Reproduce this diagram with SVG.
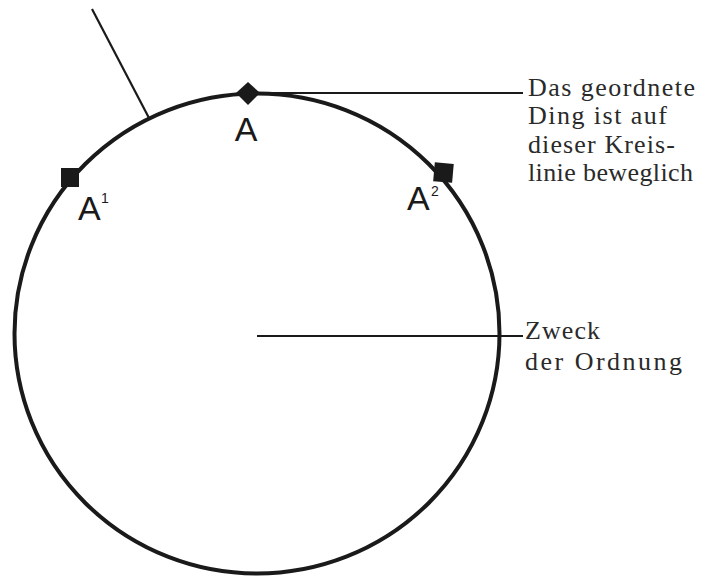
<svg xmlns="http://www.w3.org/2000/svg" width="715" height="576" viewBox="0 0 715 576">
<style>
.ring{fill:none;stroke:#1a1a1a;stroke-width:4}
.ln{stroke:#1a1a1a;stroke-width:2.2;fill:none}
.mk{fill:#1a1a1a}
.lab{font-family:"Liberation Sans",Arial,sans-serif;font-size:34px;fill:#1a1a1a}
.sup{font-family:"Liberation Sans",Arial,sans-serif;font-size:14px;fill:#1a1a1a}
.txt{font-family:"Liberation Serif","Times New Roman",serif;font-size:26px;fill:#2a2a2a}
</style>
<rect width="715" height="576" fill="#ffffff"/>
<g id="circle">
<ellipse class="ring" cx="257" cy="333.5" rx="242.5" ry="240"/>
</g>
<g id="connectors">
<line class="ln" x1="92" y1="9" x2="149" y2="118" stroke-width="2.6"/>
<line class="ln" x1="248" y1="93" x2="523" y2="93"/>
<line class="ln" x1="257" y1="336" x2="523" y2="336"/>
</g>
<g id="node-A">
<polygon class="mk" points="248,82 260,93 248,105 236,93"/>
<text class="lab" x="246" y="141" text-anchor="middle">A</text>
</g>
<g id="node-A1">
<rect class="mk" x="61" y="168" width="18" height="19"/>
<text class="lab" x="78" y="220">A</text>
<text class="sup" x="101" y="203">1</text>
</g>
<g id="node-A2">
<rect class="mk" x="434" y="163" width="19" height="19" transform="rotate(5 443 172)"/>
<text class="lab" x="407" y="210">A</text>
<text class="sup" x="431" y="196">2</text>
</g>
<g id="label-ding">
<text class="txt" x="528" y="96" textLength="167" lengthAdjust="spacing">Das  geordnete</text>
<text class="txt" x="528" y="124" textLength="139" lengthAdjust="spacing">Ding ist auf</text>
<text class="txt" x="528" y="153" textLength="147" lengthAdjust="spacing">dieser Kreis-</text>
<text class="txt" x="528" y="181" textLength="165" lengthAdjust="spacing">linie beweglich</text>
</g>
<g id="label-zweck">
<text class="txt" x="525" y="339" textLength="75" lengthAdjust="spacing">Zweck</text>
<text class="txt" x="525" y="370" textLength="157" lengthAdjust="spacing">der Ordnung</text>
</g>
</svg>
